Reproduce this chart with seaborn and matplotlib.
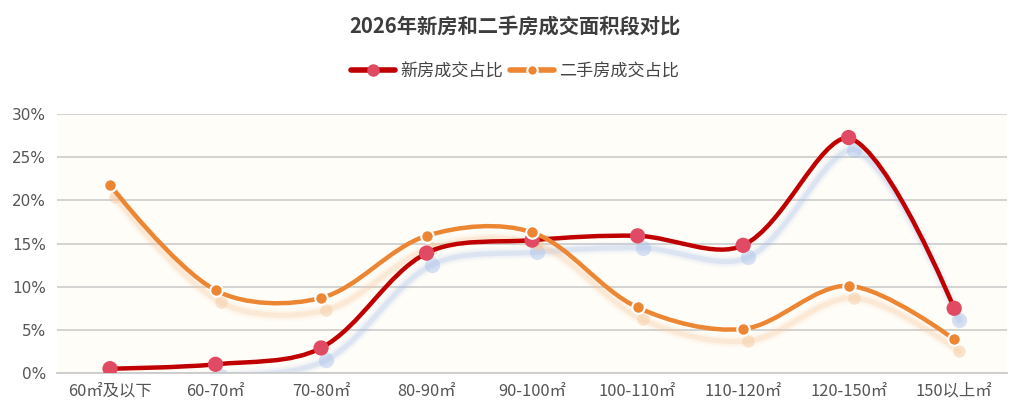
import numpy as np
import pandas as pd
import matplotlib
matplotlib.use("Agg")
import matplotlib.pyplot as plt
import matplotlib.transforms as mtransforms
from matplotlib.path import Path
from matplotlib.patches import PathPatch
from matplotlib.ticker import FuncFormatter
import seaborn as sns

# 数据
categories = ["60㎡及以下", "60-70㎡", "70-80㎡", "80-90㎡", "90-100㎡",
              "100-110㎡", "110-120㎡", "120-150㎡", "150以上㎡"]
new_house = [0.5, 1.0, 2.9, 13.9, 15.4, 15.9, 14.8, 27.3, 7.5]
second_hand = [21.8, 9.6, 8.7, 15.9, 16.3, 7.6, 5.1, 10.1, 3.9]

df = pd.DataFrame({
    "面积段": categories * 2,
    "占比": new_house + second_hand,
    "类型": ["新房成交占比"] * len(categories) + ["二手房成交占比"] * len(categories),
    "pos": list(range(len(categories))) * 2,
})

sns.set_theme(style="white")
plt.rcParams["font.family"] = ["Noto Sans CJK SC", "DejaVu Sans"]

RED_LINE = "#c00000"
RED_DOT = "#e04a62"
ORANGE = "#ec8633"

fig = plt.figure(figsize=(10.3, 4.2), dpi=100)
ax = fig.add_axes([0.0556, 0.112, 0.922, 0.616])
ax.set_facecolor("#fffdf8")


def smooth_path(xs, ys, sx=105.5, sy=8.63, smooth=0.33):
    # 平滑曲线: 像素比例下算贝塞尔控制点, 端点不平滑
    px = np.asarray(xs, float) * sx
    py = np.asarray(ys, float) * sy
    n = len(px)
    cps = []
    for i in range(n):
        if i == 0 or i == n - 1:
            cps.append(((px[i], py[i]), (px[i], py[i])))
            continue
        vx = (px[i + 1] - px[i - 1]) * smooth
        vy = (py[i + 1] - py[i - 1]) * smooth
        d0 = np.hypot(px[i] - px[i - 1], py[i] - py[i - 1])
        d1 = np.hypot(px[i + 1] - px[i], py[i + 1] - py[i])
        tot = d0 + d1
        c0 = (px[i] - vx * d0 / tot, np.clip(py[i] - vy * d0 / tot, py.min(), py.max()))
        c1 = (px[i] + vx * d1 / tot, np.clip(py[i] + vy * d1 / tot, py.min(), py.max()))
        cps.append((c0, c1))
    verts = [(px[0], py[0])]
    codes = [Path.MOVETO]
    for i in range(n - 1):
        verts += [cps[i][1], cps[i + 1][0], (px[i + 1], py[i + 1])]
        codes += [Path.CURVE4] * 3
    verts = [(x / sx, y / sy) for x, y in verts]
    return Path(verts, codes)


series = [
    ("新房成交占比", new_house, RED_LINE, RED_DOT, "#a9c1ea", 11, "none", 0),
    ("二手房成交占比", second_hand, ORANGE, ORANGE, "#f6c9a0", 9, "white", 1.5),
]

# 阴影
for name, vals, lc, mc, shc, ms, mec, mew in series:
    sub = df[df["类型"] == name]
    for k, a in [(9, 0.07), (6, 0.12), (3.5, 0.25)]:
        off = mtransforms.offset_copy(ax.transData, fig=fig, x=5, y=-12, units="dots")
        ax.add_patch(PathPatch(smooth_path(sub["pos"], sub["占比"]), fill=False,
                               edgecolor=shc, lw=k, alpha=a, transform=off,
                               capstyle="round", joinstyle="round", zorder=1))
    off = mtransforms.offset_copy(ax.transData, fig=fig, x=5, y=-12, units="dots")
    ax.scatter(sub["pos"], sub["占比"], s=ms ** 2, color=shc, alpha=0.45,
               transform=off, zorder=1, linewidths=0)

# 主线与标记
for z, (name, vals, lc, mc, shc, ms, mec, mew) in enumerate(series):
    sub = df[df["类型"] == name]
    ax.add_patch(PathPatch(smooth_path(sub["pos"], sub["占比"]), fill=False,
                           edgecolor=lc, lw=3.2, capstyle="round",
                           joinstyle="round", zorder=3 + 2 * z))
    sns.scatterplot(data=sub, x="pos", y="占比", ax=ax, s=ms ** 2, color=mc,
                    edgecolor=mec, linewidth=mew, zorder=4 + 2 * z, legend=False)

ax.set_xlim(-0.5, len(categories) - 0.5)
ax.set_ylim(0, 30)
ax.set_yticks([0, 5, 10, 15, 20, 25, 30])
ax.yaxis.set_major_formatter(FuncFormatter(lambda v, p: f"{v:.0f}%"))
ax.set_xticks(range(len(categories)))
ax.set_xticklabels(categories)
ax.set_xlabel("")
ax.set_ylabel("")
ax.grid(axis="y", color="#d0d0d0", lw=1.3)
ax.set_axisbelow(True)
for s in ["top", "right", "left"]:
    ax.spines[s].set_visible(False)
ax.spines["bottom"].set_color("#cccccc")
ax.spines["bottom"].set_linewidth(1.3)
ax.tick_params(axis="both", length=0, labelsize=11, colors="#555555", pad=8)
ax.tick_params(axis="x", labelsize=11.8, pad=7)
for lab in ax.get_yticklabels():
    lab.set_fontfamily(["DejaVu Sans"])

fig.text(0.5, 0.935, "2026年新房和二手房成交面积段对比", ha="center", va="center",
         fontsize=14.6, fontweight="bold", color="#3d3d3d")

handles = [
    plt.Line2D([], [], color=RED_LINE, lw=4, marker="o", markersize=9,
               markerfacecolor=RED_DOT, markeredgewidth=0),
    plt.Line2D([], [], color=ORANGE, lw=4, marker="o", markersize=7.5,
               markerfacecolor=ORANGE, markeredgecolor="white", markeredgewidth=1.5),
]
fig.legend(handles, ["新房成交占比", "二手房成交占比"], loc="center",
           bbox_to_anchor=(0.5, 0.83), ncol=2, frameon=False, fontsize=12.3,
           handlelength=2.6, handletextpad=0.3, columnspacing=0.4,
           labelcolor="#444444")

fig.savefig("out.png", dpi=100, facecolor="white")
